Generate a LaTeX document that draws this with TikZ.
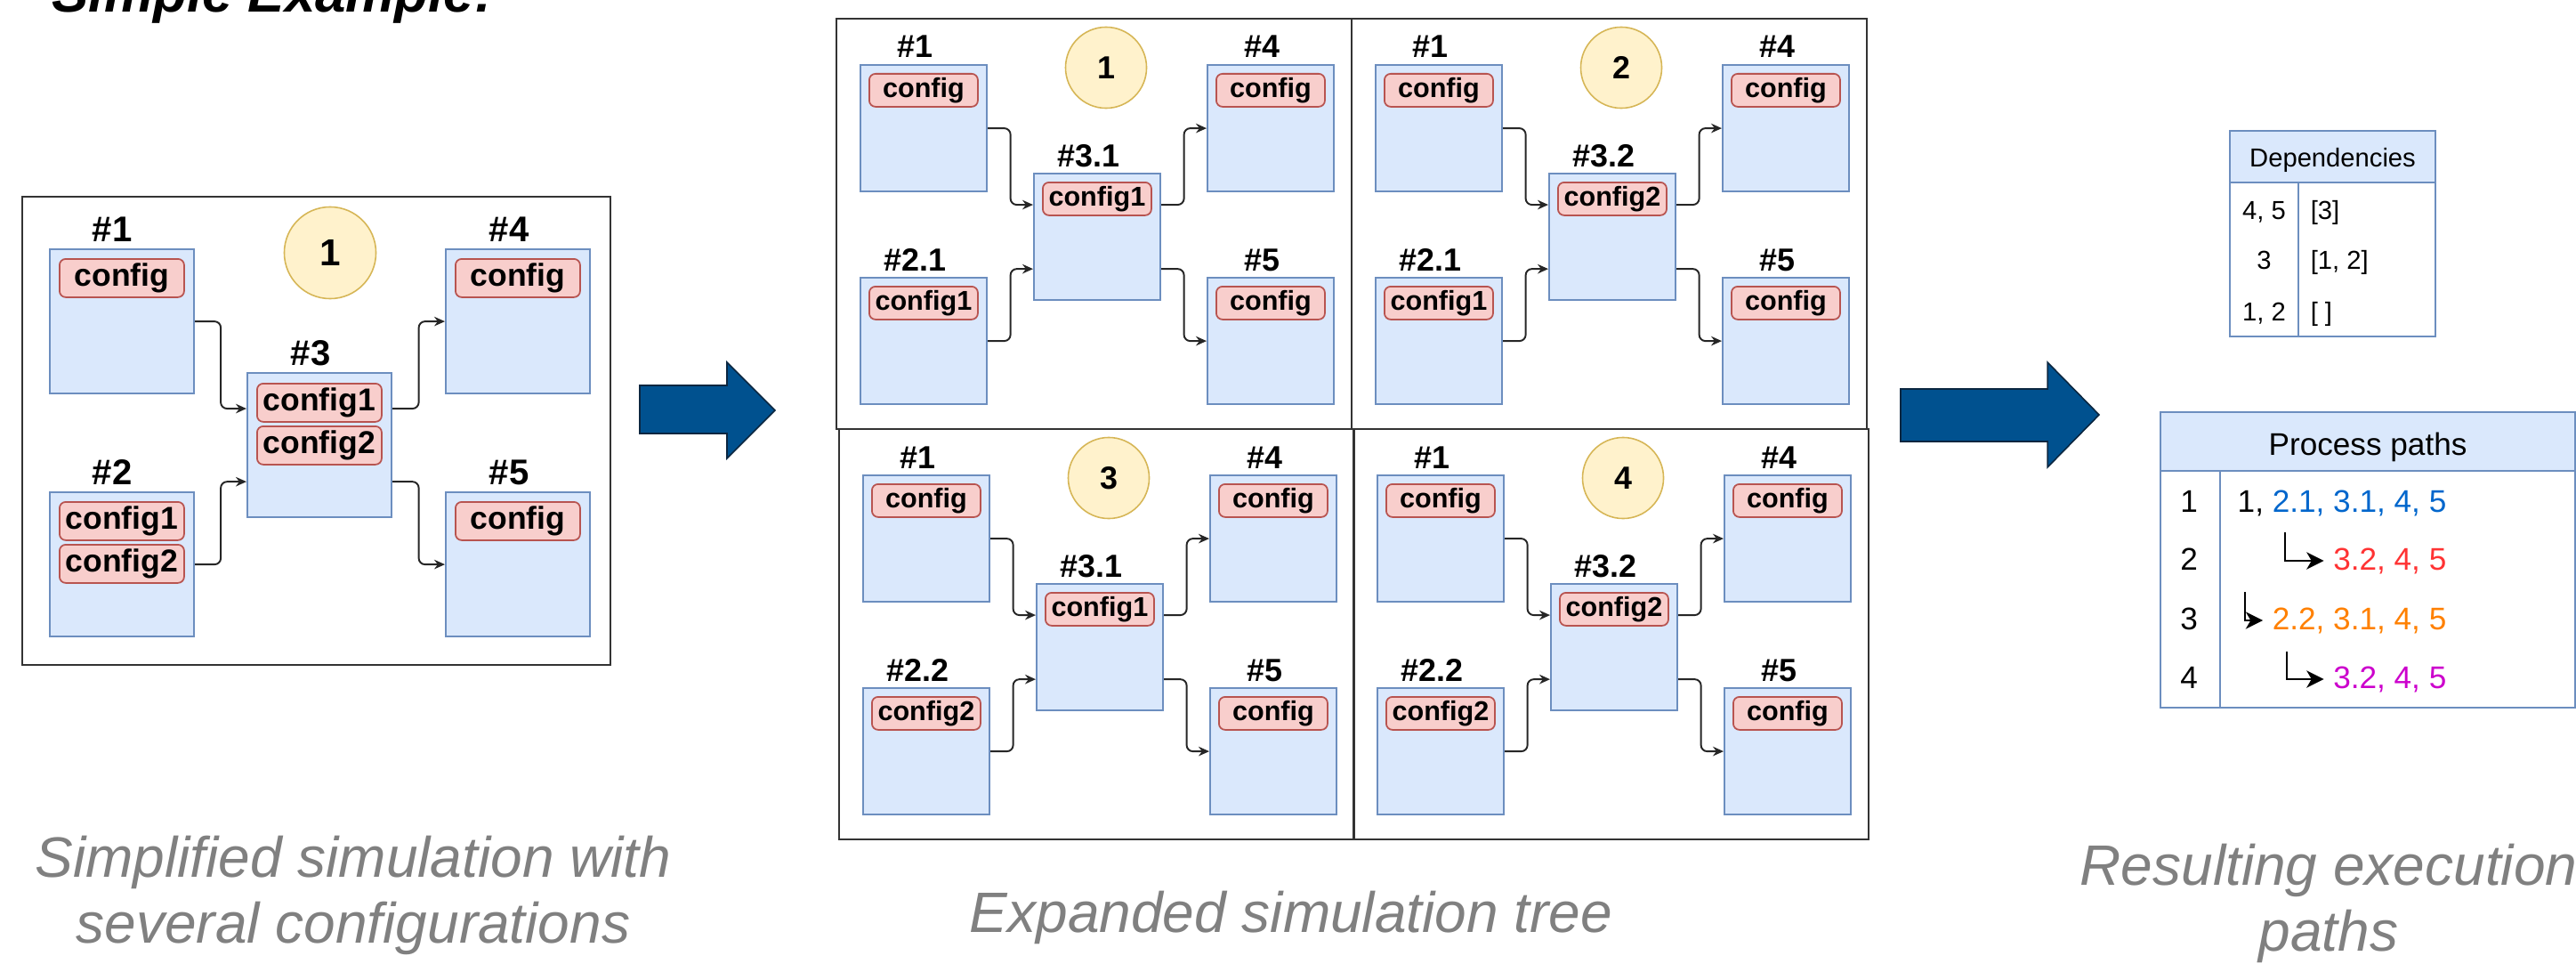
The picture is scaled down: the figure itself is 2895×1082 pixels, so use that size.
\documentclass[tikz,border=0pt]{standalone}
\usepackage{fontspec}
\setmainfont{Liberation Sans}
\usetikzlibrary{arrows.meta,calc}

\definecolor{boxfill}{HTML}{DAE8FC}
\definecolor{boxline}{HTML}{6C8EBF}
\definecolor{cfgfill}{HTML}{F8CECC}
\definecolor{cfgline}{HTML}{B85450}
\definecolor{numfill}{HTML}{FFF2CC}
\definecolor{numline}{HTML}{D6B656}
\definecolor{arrowblue}{HTML}{00518F}
\definecolor{arrowedge}{HTML}{0B2640}
\definecolor{capgray}{HTML}{808080}
\definecolor{pblue}{HTML}{0066CC}
\definecolor{pred}{HTML}{FF3333}
\definecolor{porange}{HTML}{FF8000}
\definecolor{pmagenta}{HTML}{CC00CC}

\tikzset{
  simbox/.style={draw=boxline,fill=boxfill,line width=0.6pt,anchor=north west,inner sep=0pt,minimum size=1.42cm},
  bigsimbox/.style={simbox,minimum size=1.62cm},
  cfg/.style={draw=cfgline,fill=cfgfill,line width=0.5pt,rounded corners=2pt,anchor=north west,inner sep=0pt,
    minimum width=1.22cm,minimum height=0.37cm,font=\fontsize{8.7}{10}\selectfont\bfseries},
  bigcfg/.style={cfg,minimum width=1.40cm,minimum height=0.43cm,font=\fontsize{10.1}{12}\selectfont\bfseries},
  simlbl/.style={anchor=base,inner sep=0pt,font=\fontsize{10.2}{12}\selectfont\bfseries},
  bigsimlbl/.style={simlbl,font=\fontsize{11.4}{13}\selectfont\bfseries},
  casenum/.style={circle,draw=numline,fill=numfill,line width=0.45pt,minimum size=0.91cm,inner sep=0pt,
    font=\fontsize{10.2}{12}\selectfont\bfseries},
  bigcasenum/.style={casenum,minimum size=1.03cm,font=\fontsize{12}{14}\selectfont\bfseries},
  conn/.style={draw=black!85,line width=0.55pt,rounded corners=2pt,-{Stealth[length=3.4pt,width=3pt]}},
  simframe/.style={draw=black!80,line width=0.6pt},
  fatarrow/.style={draw=arrowedge,fill=arrowblue,line width=0.45pt,line join=miter},
  tabline/.style={draw=boxline,line width=0.6pt},
  deptext/.style={anchor=base,inner sep=0pt,font=\fontsize{8.3}{10}\selectfont},
  pathtext/.style={anchor=base,inner sep=0pt,font=\fontsize{10}{12}\selectfont},
  pathrow/.style={pathtext,anchor=base east,inner sep=0.1cm},
  elbow/.style={draw=black,line width=0.5pt,-{Stealth[length=5.5pt,width=5.5pt,inset=1.6pt]}},
  capt/.style={text=capgray,anchor=base,align=center,inner sep=0pt,font=\fontsize{18.2}{21}\selectfont\itshape},
  headline/.style={anchor=base west,inner sep=0pt,font=\fontsize{17.6}{20}\selectfont\bfseries\itshape}
}

\begin{document}
\begin{tikzpicture}[x=0.01cm,y=-0.01cm]
\useasboundingbox (0,0) rectangle (2895,1082);

\node[headline] (ttl) at (58,14) {Simple Example:};

%---------------------------------------------------
% simplified simulation
\draw[simframe] (25,221) rectangle (686,747);
\node[bigcasenum] (c0) at (371,284) {1};

\node[bigsimbox] (s1) at (55,279) {};
\node[bigsimbox] (s2) at (55,552) {};
\node[bigsimbox] (s3) at (277,418) {};
\node[bigsimbox] (s4) at (500,279) {};
\node[bigsimbox] (s5) at (500,552) {};

\node[bigsimlbl] (s1l) at ($(s1.north)+(-11,-8)$) {\#1};
\node[bigsimlbl] (s2l) at ($(s2.north)+(-11,-8)$) {\#2};
\node[bigsimlbl] (s3l) at ($(s3.north)+(-10,-8)$) {\#3};
\node[bigsimlbl] (s4l) at ($(s4.north)+(-10,-8)$) {\#4};
\node[bigsimlbl] (s5l) at ($(s5.north)+(-10,-8)$) {\#5};

\node[bigcfg] (s1c) at ($(s1.north west)+(11,11)$) {config};
\node[bigcfg] (s2c) at ($(s2.north west)+(11,11)$) {config1};
\node[bigcfg] (s2d) at ($(s2.north west)+(11,59)$) {config2};
\node[bigcfg] (s3c) at ($(s3.north west)+(11,12)$) {config1};
\node[bigcfg] (s3d) at ($(s3.north west)+(11,60)$) {config2};
\node[bigcfg] (s4c) at ($(s4.north west)+(11,11)$) {config};
\node[bigcfg] (s5c) at ($(s5.north west)+(11,11)$) {config};

\coordinate (s3a) at ($(s3.north west)!.25!(s3.south west)$);
\coordinate (s3b) at ($(s3.north west)!.75!(s3.south west)$);
\coordinate (s3c) at ($(s3.north east)!.25!(s3.south east)$);
\coordinate (s3d) at ($(s3.north east)!.75!(s3.south east)$);
\draw[conn] (s1.east) -| ($(s1.east)!.5!(s3a)$) |- (s3a);
\draw[conn] (s2.east) -| ($(s2.east)!.5!(s3b)$) |- (s3b);
\draw[conn] (s3c) -| ($(s3c)!.5!(s4.west)$) |- (s4.west);
\draw[conn] (s3d) -| ($(s3d)!.5!(s5.west)$) |- (s5.west);

\draw[fatarrow] (719,433) -- (817,433) -- (817,407) -- (871,461) -- (817,515) -- (817,487) -- (719,487) -- cycle;

%---------------------------------------------------
% expanded tree, one panel per case
\foreach \dx/\dy/\casen/\lbltwo/\cfgtwo/\lblthree/\cfgthree in
  {0/0/1/2.1/config1/3.1/config1, 579/0/2/2.1/config1/3.2/config2,
   3/461/3/2.2/config2/3.1/config1, 581/461/4/2.2/config2/3.2/config2}{
\begin{scope}[shift={(\dx,\dy)}]
\draw[simframe] (940,21) rectangle (1519,482);
\node[casenum] (c) at (1243,76) {\casen};

\node[simbox] (m1) at (966,72) {};
\node[simbox] (m2) at (966,311) {};
\node[simbox] (m3) at (1161,194) {};
\node[simbox] (m4) at (1356,72) {};
\node[simbox] (m5) at (1356,311) {};

\node[simlbl] (m1l) at ($(m1.north)+(-10,-7)$) {\#1};
\node[simlbl] (m2l) at ($(m2.north)+(-10,-7)$) {\#\lbltwo};
\node[simlbl] (m3l) at ($(m3.north)+(-10,-7)$) {\#\lblthree};
\node[simlbl] (m4l) at ($(m4.north)+(-10,-7)$) {\#4};
\node[simlbl] (m5l) at ($(m5.north)+(-10,-7)$) {\#5};

\node[cfg] (m1c) at ($(m1.north west)+(10,10)$) {config};
\node[cfg] (m2c) at ($(m2.north west)+(10,10)$) {\cfgtwo};
\node[cfg] (m3c) at ($(m3.north west)+(10,10)$) {\cfgthree};
\node[cfg] (m4c) at ($(m4.north west)+(10,10)$) {config};
\node[cfg] (m5c) at ($(m5.north west)+(10,10)$) {config};

\coordinate (m3a) at ($(m3.north west)!.25!(m3.south west)$);
\coordinate (m3b) at ($(m3.north west)!.75!(m3.south west)$);
\coordinate (m3e) at ($(m3.north east)!.25!(m3.south east)$);
\coordinate (m3f) at ($(m3.north east)!.75!(m3.south east)$);
\draw[conn] (m1.east) -| ($(m1.east)!.5!(m3a)$) |- (m3a);
\draw[conn] (m2.east) -| ($(m2.east)!.5!(m3b)$) |- (m3b);
\draw[conn] (m3e) -| ($(m3e)!.5!(m4.west)$) |- (m4.west);
\draw[conn] (m3f) -| ($(m3f)!.5!(m5.west)$) |- (m5.west);
\end{scope}
}

\draw[fatarrow] (2136,437) -- (2301,437) -- (2301,407) -- (2359,466) -- (2301,525) -- (2301,496) -- (2136,496) -- cycle;

%---------------------------------------------------
% dependencies
\draw[tabline,fill=boxfill] (2506,147) rectangle (2737,205);
\draw[tabline] (2506,205) rectangle (2737,378);
\draw[tabline] (2583,205) -- (2583,378);
\node[deptext] (dh) at (2621.5,188) {Dependencies};
\node[deptext] (d1) at (2544.5,246) {4, 5};
\node[deptext] (d2) at (2544.5,302) {3};
\node[deptext] (d3) at (2544.5,360) {1, 2};
\node[deptext,anchor=base west] (d1v) at (2596,246) {[3]};
\node[deptext,anchor=base west] (d2v) at (2596,302) {[1, 2]};
\node[deptext,anchor=base west] (d3v) at (2596,360) {[ ]};

%---------------------------------------------------
% process paths
\draw[tabline,fill=boxfill] (2428,463) rectangle (2894,529);
\draw[tabline] (2428,529) rectangle (2894,795);
\draw[tabline] (2495,529) -- (2495,795);
\node[pathtext] (ph) at (2661,511) {Process paths};
\node[pathtext] (p1) at (2460,575) {1};
\node[pathtext] (p2) at (2460,640) {2};
\node[pathtext] (p3) at (2460,707) {3};
\node[pathtext] (p4) at (2460,773) {4};
\node[pathrow] (r1) at (2760,575) {1, \textcolor{pblue}{2.1, 3.1, 4, 5}};
\node[pathrow,text=pred] (r2) at (2760,640) {3.2, 4, 5};
\node[pathrow,text=porange] (r3) at (2760,707) {2.2, 3.1, 4, 5};
\node[pathrow,text=pmagenta] (r4) at (2760,773) {3.2, 4, 5};
\coordinate (e2) at (2568,598);
\coordinate (e3) at (2523,665);
\coordinate (e4) at (2570,732);
\draw[elbow] (e2) |- (r2.west);
\draw[elbow] (e3) |- (r3.west);
\draw[elbow] (e4) |- (r4.west);

%---------------------------------------------------
% captions (base = last line)
\node[capt] (cap1) at (397,1059) {Simplified simulation with\\several configurations};
\node[capt] (cap2) at (1451,1047) {Expanded simulation tree};
\node[capt] (cap3) at (2617,1068) {Resulting execution\\paths};

\end{tikzpicture}
\end{document}
